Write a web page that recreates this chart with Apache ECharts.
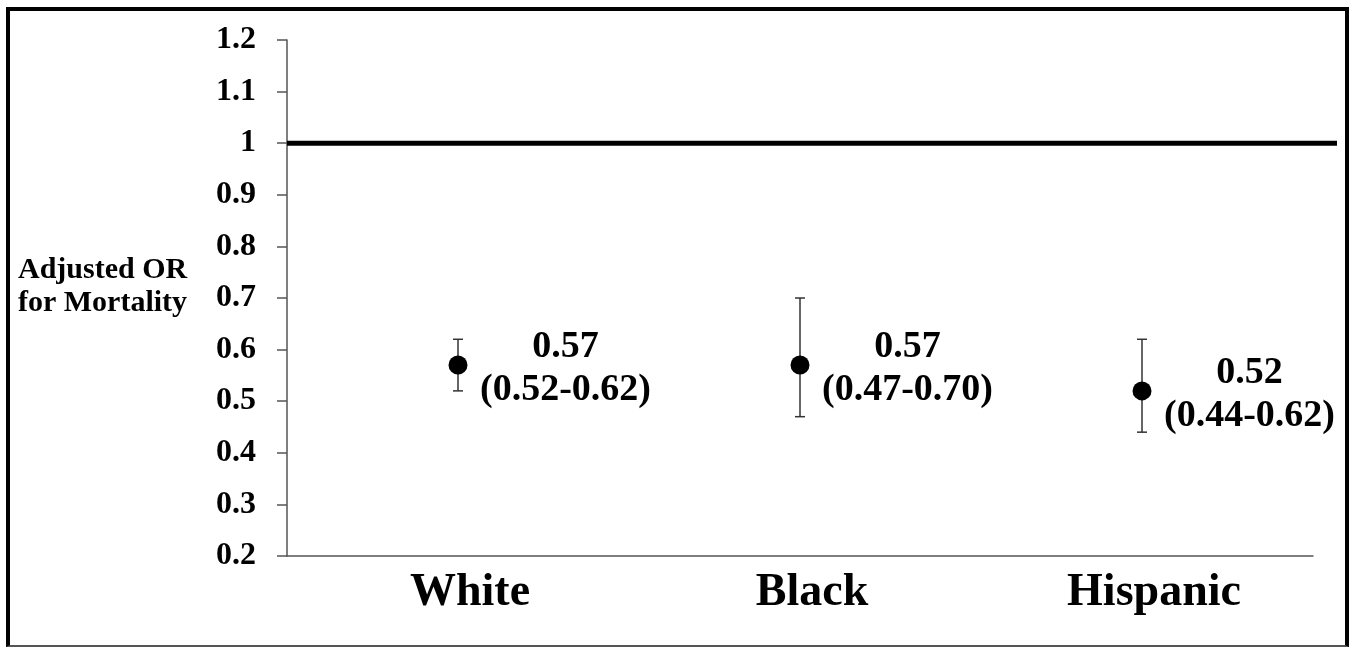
<!DOCTYPE html>
<html>
<head>
<meta charset="utf-8">
<script src="https://cdn.jsdelivr.net/npm/echarts@6/dist/echarts.min.js"></script>
<style>
  html, body { margin: 0; padding: 0; background: #fff; }
  #wrap { position: relative; width: 1352px; height: 648px; }
  #chart { position: absolute; left: 0; top: 0; width: 1352px; height: 648px; }
  #frame {
    position: absolute; left: 6px; top: 7px; width: 1335px; height: 634px;
    border-top: 4px solid #000; border-left: 4px solid #000; border-right: 4px solid #000;
    border-bottom: 2px solid #555; pointer-events: none;
  }
</style>
</head>
<body>
<div id="wrap">
  <div id="chart"></div>
  <div id="frame"></div>
</div>
<script>
// Adjusted odds ratios for mortality by race/ethnicity, with 95% CI
const categories = ['White', 'Black', 'Hispanic'];
const oddsRatio = [0.57, 0.57, 0.52];
const ciLower = [0.52, 0.47, 0.44];
const ciUpper = [0.62, 0.70, 0.62];
const referenceOR = 1;
const yMin = 0.2, yMax = 1.2, yStep = 0.1;

const serif = '"Liberation Serif", "Times New Roman", serif';
const axisGray = '#555';

const chart = echarts.init(document.getElementById('chart'), null, { renderer: 'canvas' });

const pointData = categories.map((c, i) => [i, oddsRatio[i], ciLower[i], ciUpper[i]]);
const barData = categories.map((c, i) => [i, ciLower[i], ciUpper[i]]);

const labelText = { width: 178, align: 'center', fontFamily: serif, fontWeight: 'bold', fontSize: 38, lineHeight: 43, color: '#000' };

const option = {
  animation: false,
  backgroundColor: '#fff',
  title: {
    text: 'Adjusted OR\nfor Mortality',
    left: 13, top: 249,
    textStyle: { fontFamily: serif, fontWeight: 'bold', fontSize: 30, lineHeight: 33, color: '#000' }
  },
  grid: [
    { left: 287, right: 39, top: 40, bottom: 92 },
    { left: 287, right: 15, top: 40, bottom: 92 }
  ],
  xAxis: [
    {
      type: 'category', gridIndex: 0, data: categories,
      axisLine: { lineStyle: { color: axisGray, width: 1.5 } },
      axisTick: { show: false },
      axisLabel: {
        margin: 14, color: '#000', fontFamily: serif, fontWeight: 'bold', fontSize: 46,
        padding: [0, 0, 0, 24]
      },
      splitLine: { show: false }
    },
    { type: 'value', gridIndex: 1, min: 0, max: 1, show: false }
  ],
  yAxis: [
    {
      type: 'value', gridIndex: 0, min: yMin, max: yMax, interval: yStep,
      axisLine: { show: true, lineStyle: { color: axisGray, width: 1.5 } },
      axisTick: { show: true, inside: false, length: 10, lineStyle: { color: axisGray, width: 1.5 } },
      axisLabel: {
        margin: 31, color: '#000', fontFamily: serif, fontWeight: 'bold', fontSize: 32,
        formatter: v => String(+v.toFixed(1))
      },
      splitLine: { show: false }
    },
    { type: 'value', gridIndex: 1, min: yMin, max: yMax, show: false }
  ],
  series: [
    {
      // reference line at OR = 1
      type: 'line', xAxisIndex: 1, yAxisIndex: 1,
      data: [[0, referenceOR], [1, referenceOR]],
      symbol: 'none', silent: true,
      lineStyle: { color: '#000', width: 5 },
      z: 3
    },
    {
      // confidence interval whiskers
      type: 'custom', xAxisIndex: 0, yAxisIndex: 0,
      data: barData,
      renderItem: function (params, api) {
        const lo = api.coord([api.value(0), api.value(1)]);
        const hi = api.coord([api.value(0), api.value(2)]);
        const cap = 5;
        const style = { stroke: '#333', lineWidth: 1.5 };
        return {
          type: 'group',
          children: [
            { type: 'line', shape: { x1: lo[0], y1: lo[1], x2: hi[0], y2: hi[1] }, style },
            { type: 'line', shape: { x1: lo[0] - cap, y1: lo[1], x2: lo[0] + cap, y2: lo[1] }, style },
            { type: 'line', shape: { x1: hi[0] - cap, y1: hi[1], x2: hi[0] + cap, y2: hi[1] }, style }
          ]
        };
      },
      z: 4
    },
    {
      type: 'scatter', xAxisIndex: 0, yAxisIndex: 0,
      data: pointData,
      symbol: 'circle', symbolSize: 19,
      itemStyle: { color: '#000', opacity: 1 },
      emphasis: { disabled: true },
      label: {
        show: true, position: 'right', distance: 9, offset: [0, 4], color: '#000',
        formatter: p => '{v|' + p.value[1].toFixed(2) + '}\n{ci|(' +
          p.value[2].toFixed(2) + '-' + p.value[3].toFixed(2) + ')}',
        rich: { v: labelText, ci: labelText }
      },
      z: 5
    }
  ]
};

chart.setOption(option);
</script>
</body>
</html>
